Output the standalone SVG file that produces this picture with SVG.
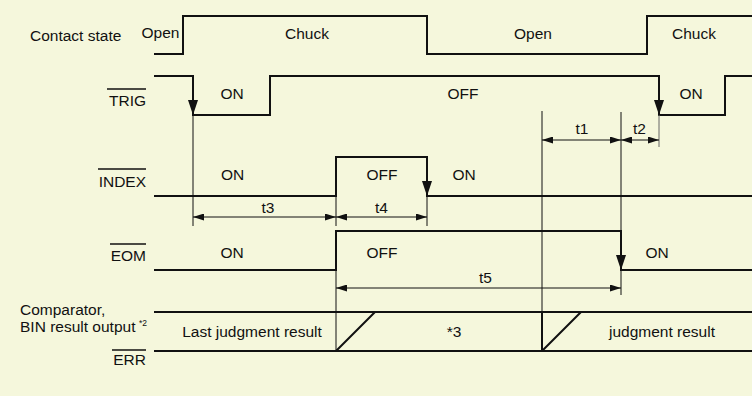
<svg xmlns="http://www.w3.org/2000/svg" width="752" height="396" viewBox="0 0 752 396">
<style>
text{font-family:"Liberation Sans",Arial,sans-serif;font-size:15.5px;fill:#111}
.m{text-anchor:middle}.e{text-anchor:end}
.sig{fill:none;stroke:#111;stroke-width:2;stroke-linejoin:miter}
.thin{fill:none;stroke:#111;stroke-width:1}
.gray{fill:none;stroke:#666;stroke-width:1}
.dim{fill:none;stroke:#111;stroke-width:1;marker-start:url(#da);marker-end:url(#da)}
.ov{stroke:#111;stroke-width:1.3}
.ah{fill:#111}
</style>
<defs>
<marker id="da" viewBox="0 -3.5 11 7" refX="11" refY="0" markerWidth="11" markerHeight="7" markerUnits="userSpaceOnUse" orient="auto-start-reverse">
<path d="M0,-3.5 L11,0 L0,3.5 z" fill="#111"/>
</marker>
<path id="down" d="M0,0 L-5,-15 L5,-15 z"/>
</defs>
<rect width="752" height="396" fill="#F5F7DC"/>

<g id="contact">
<text x="30" y="41">Contact state</text>
<path class="sig" d="M154,54 H183 V16 H427 V54 H647 V16 H752"/>
<text class="m" x="160.5" y="38">Open</text>
<text class="m" x="307" y="39">Chuck</text>
<text class="m" x="533" y="39">Open</text>
<text class="m" x="694" y="39">Chuck</text>
</g>

<g id="trig">
<text class="e" x="146" y="105.5">TRIG</text>
<line class="ov" x1="107" y1="89" x2="146" y2="89"/>
<path class="sig" d="M154,76 H193 V115 H270 V76 H659 V115 H725 V76 H752"/>
<use class="ah" href="#down" x="193" y="115"/>
<use class="ah" href="#down" x="659" y="115"/>
<text class="m" x="232" y="99">ON</text>
<text class="m" x="463" y="99">OFF</text>
<text class="m" x="691" y="99">ON</text>
</g>

<g id="index">
<text class="e" x="146" y="187">INDEX</text>
<line class="ov" x1="98" y1="169" x2="146" y2="169"/>
<path class="sig" d="M154,196 H336 V157 H427 V196 H752"/>
<use class="ah" href="#down" x="427" y="196"/>
<text class="m" x="232.5" y="180">ON</text>
<text class="m" x="382" y="180">OFF</text>
<text class="m" x="464" y="180">ON</text>
</g>

<g id="eom">
<text class="e" x="146" y="261">EOM</text>
<line class="ov" x1="110" y1="244" x2="146" y2="244"/>
<path class="sig" d="M154,270 H336 V231 H621 V270 H752"/>
<use class="ah" href="#down" x="621" y="270"/>
<text class="m" x="232" y="258">ON</text>
<text class="m" x="382" y="258">OFF</text>
<text class="m" x="657" y="258">ON</text>
</g>

<g id="result">
<text x="20" y="315">Comparator,</text>
<text x="20" y="332">BIN result output</text>
<text x="139" y="326" style="font-size:8.5px">*2</text>
<text class="e" x="146" y="365">ERR</text>
<line class="ov" x1="112" y1="350" x2="146" y2="350"/>
<path class="sig" d="M154,312 H752 M154,351 H752 M336,351 L375,312 M542,351 L581,312 M542,312 V351"/>
<text class="m" x="252" y="337">Last judgment result</text>
<text class="m" x="454" y="337">*3</text>
<text class="m" x="662" y="337">judgment result</text>
</g>

<g id="connectors">
<path class="thin" d="M193,115 V226 M336,196 V226 M427,196 V226 M336,231 V351 M542,111 V312 M621,112 V231 M621,270 V295"/>
<path class="gray" d="M659,115 V147"/>
<line class="dim" x1="193" y1="217" x2="336" y2="217"/>
<line class="dim" x1="336" y1="217" x2="427" y2="217"/>
<line class="dim" x1="542" y1="140" x2="621" y2="140"/>
<line class="dim" x1="621" y1="140" x2="659" y2="140"/>
<line class="dim" x1="336" y1="288" x2="621" y2="288"/>
<text class="m" x="268" y="213">t3</text>
<text class="m" x="381.5" y="213">t4</text>
<text class="m" x="582" y="134">t1</text>
<text class="m" x="639.5" y="134">t2</text>
<text class="m" x="485.5" y="282.5">t5</text>
</g>
</svg>
